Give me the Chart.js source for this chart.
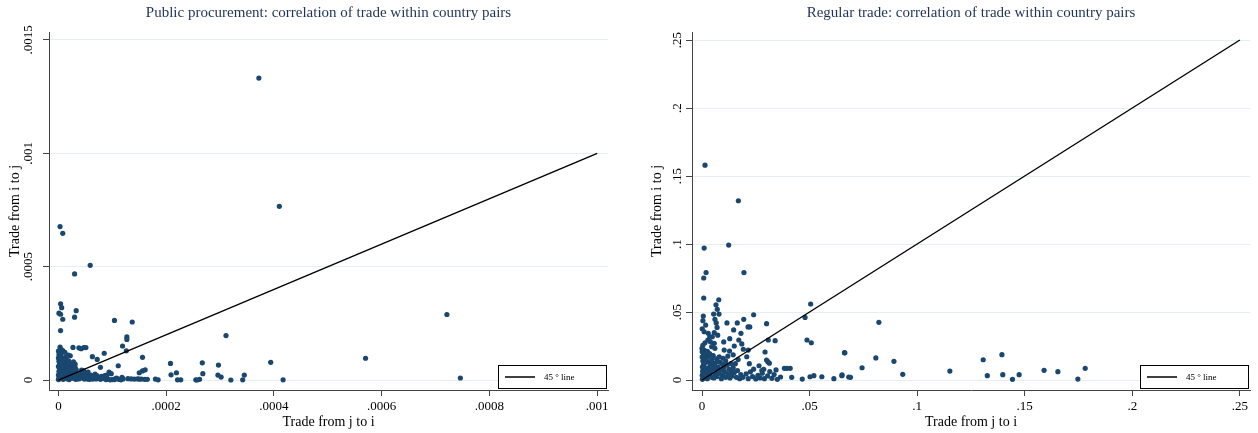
<!DOCTYPE html>
<html>
<head>
<meta charset="utf-8">
<title>Correlation of trade within country pairs</title>
<script src="https://cdn.jsdelivr.net/npm/chart.js@4.4.1/dist/chart.umd.min.js"></script>
<style>
  html, body { margin:0; padding:0; background:#fff; }
  .panels { display:flex; width:1258px; height:433px; }
  .panels canvas { display:block; }
</style>
</head>
<body>
<div class="panels">
  <canvas id="procChart" width="629" height="433"></canvas>
  <canvas id="tradeChart" width="629" height="433"></canvas>
</div>
<script>
/* ---------- Labels ---------- */
const procTitle = 'Public procurement: correlation of trade within country pairs';
const tradeTitle = 'Regular trade: correlation of trade within country pairs';
const xTitle = 'Trade from j to i';
const yTitle = 'Trade from i to j';
const lineLabel = '45 ° line';

/* ---------- Ticks ---------- */
const procXTicks = [0, 0.0002, 0.0004, 0.0006, 0.0008, 0.001];
const procYTicks = [0, 0.0005, 0.001, 0.0015];
const tradeXTicks = [0, 0.05, 0.1, 0.15, 0.2, 0.25];
const tradeYTicks = [0, 0.05, 0.1, 0.15, 0.2, 0.25];

/* ---------- 45 degree lines (x = y) ---------- */
const procDiagonal = [0, 0.001];
const tradeDiagonal = [0, 0.25];

/* ---------- Public procurement: [trade j->i, trade i->j] ---------- */
const procPairs = [
  [0.000372,0.001332],[0.000410,0.000766],[0.000003,0.000677],[0.000008,0.000647],
  [0.000059,0.000506],[0.000030,0.000468],[0.000004,0.000336],[0.000006,0.000319],
  [0.000033,0.000306],[0.000001,0.000295],[0.000004,0.000290],[0.000030,0.000277],
  [0.000008,0.000268],[0.000104,0.000263],[0.000137,0.000256],[0.000004,0.000218],
  [0.000311,0.000196],[0.000127,0.000190],[0.000127,0.000179],[0.000721,0.000289],
  [0.000570,0.000096],[0.000746,0.000009],[0.000394,0.000078],[0.000417,0.000001],
  [0.000119,0.000150],[0.000126,0.000129],
  [0.000027,0.000144],[0.000038,0.000142],[0.000042,0.000138],[0.000047,0.000143],[0.000051,0.000143],
  [0.000022,0.000107],[0.000063,0.000103],[0.000085,0.000118],[0.000072,0.000091],[0.000156,0.000100],
  [0.000111,0.000063],[0.000078,0.000056],[0.000028,0.000080],[0.000031,0.000070],[0.000043,0.000044],
  [0.000047,0.000040],[0.000094,0.000035],[0.000098,0.000028],[0.000090,0.000022],
  [0.000150,0.000032],[0.000156,0.000040],[0.000161,0.000045],
  [0.000208,0.000073],[0.000209,0.000023],[0.000219,0.000032],
  [0.000267,0.000076],[0.000297,0.000066],[0.000268,0.000028],[0.000296,0.000022],[0.000302,0.000013],[0.000345,0.000022],
  [0.000129,0.000006],[0.000135,0.000005],[0.000141,0.000004],[0.000147,0.000005],[0.000150,0.000004],
  [0.000154,0.000004],[0.000160,0.000003],[0.000165,0.000003],[0.000180,0.000004],[0.000185,0.000001],
  [0.000118,0.000012],[0.000105,0.000005],[0.000100,0.000002],
  [0.000221,0.000001],[0.000227,0.000001],[0.000255,0.000001],[0.000257,0.000000],[0.000262,0.000003],
  [0.000320,0.000000],[0.000342,0.000001],
  // dense block near the origin
  [0.000000,0.000002],[0.000001,0.000008],[0.000002,0.000015],[0.000000,0.000022],[0.000003,0.000030],
  [0.000001,0.000038],[0.000004,0.000045],[0.000002,0.000052],[0.000000,0.000060],[0.000005,0.000067],
  [0.000002,0.000075],[0.000001,0.000083],[0.000004,0.000090],[0.000000,0.000097],[0.000003,0.000104],
  [0.000001,0.000112],[0.000002,0.000120],[0.000000,0.000128],[0.000005,0.000135],[0.000003,0.000145],
  [0.000009,0.000003],[0.000011,0.000010],[0.000008,0.000018],[0.000013,0.000025],[0.000010,0.000033],
  [0.000014,0.000040],[0.000009,0.000048],[0.000012,0.000056],[0.000015,0.000063],[0.000010,0.000071],
  [0.000013,0.000078],[0.000016,0.000086],[0.000011,0.000094],[0.000014,0.000101],[0.000018,0.000110],
  [0.000020,0.000002],[0.000022,0.000009],[0.000024,0.000016],[0.000021,0.000023],[0.000026,0.000030],
  [0.000023,0.000038],[0.000028,0.000045],[0.000025,0.000053],[0.000029,0.000062],[0.000022,0.000070],
  [0.000032,0.000003],[0.000035,0.000010],[0.000038,0.000018],[0.000033,0.000026],[0.000040,0.000033],
  [0.000036,0.000005],[0.000044,0.000012],[0.000048,0.000004],[0.000052,0.000009],[0.000056,0.000016],
  [0.000042,0.000024],[0.000050,0.000028],[0.000058,0.000003],[0.000062,0.000008],[0.000066,0.000014],
  [0.000070,0.000005],[0.000074,0.000010],[0.000078,0.000003],[0.000084,0.000007],[0.000088,0.000002],
  [0.000092,0.000004],[0.000096,0.000001],[0.000104,0.000002],[0.000108,0.000008],[0.000112,0.000003],
  [0.000116,0.000001],[0.000120,0.000005],[0.000045,0.000040],[0.000055,0.000035],[0.000060,0.000022],
  [0.000068,0.000026],[0.000072,0.000018],[0.000080,0.000016],[0.000086,0.000020],
  [0.000006,0.000006],[0.000007,0.000026],[0.000006,0.000042],[0.000007,0.000058],[0.000006,0.000078],
  [0.000007,0.000095],[0.000005,0.000110],[0.000017,0.000005],[0.000018,0.000020],[0.000016,0.000035],
  [0.000019,0.000050],[0.000017,0.000068],[0.000019,0.000085],[0.000027,0.000008],[0.000030,0.000018],
  [0.000027,0.000036],[0.000033,0.000046],[0.000031,0.000055],[0.000036,0.000028],[0.000039,0.000006],
  [0.000046,0.000020],[0.000054,0.000004],[0.000041,0.000014],[0.000060,0.000012],[0.000064,0.000004],
  [0.000003,0.000125],[0.000008,0.000130],[0.000012,0.000122]
];

/* ---------- Regular trade: [trade j->i, trade i->j] ---------- */
const tradePairs = [
  [0.0014,0.1580],[0.0169,0.1318],[0.0124,0.0992],[0.0010,0.0970],[0.0019,0.0790],[0.0195,0.0790],[0.0008,0.0750],
  [0.0008,0.0603],[0.0078,0.0590],[0.0065,0.0553],[0.0071,0.0520],[0.0079,0.0485],[0.0054,0.0485],
  [0.0240,0.0480],[0.0116,0.0420],[0.0164,0.0420],[0.0194,0.0446],[0.0214,0.0390],[0.0222,0.0390],
  [0.0300,0.0414],[0.0147,0.0368],[0.0181,0.0343],
  [0.0101,0.0280],[0.0129,0.0304],[0.0171,0.0294],[0.0150,0.0250],[0.0185,0.0265],[0.0103,0.0220],[0.0128,0.0213],
  [0.0308,0.0294],[0.0340,0.0289],[0.0215,0.0220],[0.0192,0.0226],[0.0208,0.0171],[0.0293,0.0206],
  [0.0300,0.0147],[0.0306,0.0135],[0.0313,0.0124],
  [0.0479,0.0460],[0.0505,0.0559],[0.0488,0.0294],[0.0508,0.0274],[0.0662,0.0201],
  [0.0383,0.0086],[0.0395,0.0086],[0.0410,0.0086],[0.0287,0.0079],[0.0278,0.0069],[0.0344,0.0074],
  [0.0417,0.0020],[0.0466,0.0007],[0.0502,0.0024],[0.0520,0.0032],[0.0557,0.0024],[0.0613,0.0010],[0.0650,0.0032],
  [0.0822,0.0424],[0.0664,0.0200],[0.0808,0.0162],[0.0892,0.0137],[0.0744,0.0090],[0.0651,0.0037],
  [0.0682,0.0022],[0.0690,0.0020],[0.0933,0.0042],[0.1152,0.0066],[0.1307,0.0149],[0.1394,0.0186],
  [0.1326,0.0032],[0.1398,0.0039],[0.1443,0.0005],[0.1474,0.0039],[0.1590,0.0071],[0.1654,0.0061],
  [0.1747,0.0007],[0.1781,0.0086],
  [0.0006,0.0470],[0.0004,0.0436],[0.0017,0.0404],[0.0001,0.0377],[0.0010,0.0355],[0.0029,0.0343],
  [0.0036,0.0318],[0.0027,0.0294],[0.0014,0.0274],[0.0004,0.0255],[0.0000,0.0233],[0.0010,0.0220],
  [0.0001,0.0208],[0.0060,0.0446],[0.0066,0.0420],[0.0070,0.0387],[0.0057,0.0348],[0.0073,0.0330],
  [0.0048,0.0318],[0.0039,0.0282],[0.0057,0.0270],[0.0045,0.0245],[0.0060,0.0233],
  // dense block near the origin
  [0.0002,0.0005],[0.0005,0.0020],[0.0001,0.0035],[0.0008,0.0050],[0.0003,0.0065],[0.0010,0.0080],
  [0.0002,0.0095],[0.0006,0.0110],[0.0012,0.0125],[0.0004,0.0140],[0.0009,0.0155],[0.0001,0.0170],
  [0.0007,0.0185],[0.0015,0.0195],
  [0.0025,0.0010],[0.0030,0.0030],[0.0022,0.0050],[0.0035,0.0070],[0.0028,0.0090],[0.0040,0.0110],
  [0.0032,0.0130],[0.0045,0.0150],[0.0026,0.0170],[0.0038,0.0185],[0.0046,0.0020],[0.0042,0.0060],
  [0.0055,0.0015],[0.0060,0.0040],[0.0070,0.0025],[0.0065,0.0070],[0.0075,0.0095],[0.0058,0.0120],
  [0.0080,0.0050],[0.0085,0.0130],[0.0068,0.0155],[0.0090,0.0010],
  [0.0095,0.0035],[0.0105,0.0060],[0.0110,0.0020],[0.0120,0.0045],[0.0100,0.0090],[0.0115,0.0110],
  [0.0125,0.0080],[0.0130,0.0015],[0.0098,0.0160],
  [0.0140,0.0030],[0.0150,0.0055],[0.0160,0.0020],[0.0145,0.0090],[0.0165,0.0070],[0.0175,0.0010],
  [0.0155,0.0120],[0.0180,0.0040],
  [0.0190,0.0020],[0.0205,0.0045],[0.0215,0.0010],[0.0225,0.0060],[0.0235,0.0025],[0.0250,0.0008],
  [0.0260,0.0035],[0.0270,0.0015],[0.0280,0.0050],[0.0290,0.0010],[0.0305,0.0030],[0.0315,0.0062],
  [0.0325,0.0012],[0.0335,0.0040],[0.0350,0.0005],[0.0365,0.0022],[0.0240,0.0080],[0.0265,0.0105],
  [0.0220,0.0120],
  [0.0015,0.0015],[0.0005,0.0042],[0.0018,0.0070],[0.0008,0.0105],[0.0019,0.0135],[0.0020,0.0160],
  [0.0035,0.0045],[0.0050,0.0085],[0.0048,0.0125],[0.0062,0.0100],[0.0072,0.0135],[0.0088,0.0075],
  [0.0095,0.0115],[0.0110,0.0140],[0.0120,0.0175],[0.0135,0.0120],[0.0138,0.0060],[0.0052,0.0180],
  [0.0080,0.0170],[0.0025,0.0210],[0.0035,0.0195],[0.0168,0.0150],[0.0145,0.0185]
];

/* ---------- Shared style ---------- */
const serif = '"Liberation Serif", "Times New Roman", serif';
const navy = '#1a476f';

function tickText(v) {
  return v === 0 ? '0' : String(v).replace(/^0\./, '.');
}

/* ---------- Title above plot region ---------- */
const panelTitle = {
  id: 'panelTitle',
  afterDraw(chart, args, opts) {
    const { ctx, chartArea } = chart;
    ctx.save();
    ctx.font = '15px ' + serif;
    ctx.fillStyle = '#1e3356';
    ctx.textAlign = 'center';
    ctx.textBaseline = 'middle';
    ctx.fillText(opts.text, (chartArea.left + chartArea.right) / 2, 13);
    ctx.restore();
  }
};

/* ---------- Boxed key in the lower right corner ---------- */
const lineKey = {
  id: 'lineKey',
  afterDatasetsDraw(chart) {
    const ds = chart.data.datasets.find(d => d.type === 'line');
    const { ctx, chartArea } = chart;
    const w = 108, h = 23;
    const left = Math.round(chartArea.right - w - 2), top = Math.round(chartArea.bottom - h - 2);
    ctx.save();
    ctx.fillStyle = '#fff';
    ctx.fillRect(left, top, w, h);
    ctx.strokeStyle = '#000';
    ctx.lineWidth = 1;
    ctx.strokeRect(left + 0.5, top + 0.5, w, h);
    ctx.beginPath();
    ctx.moveTo(left + 7, top + h / 2 + 0.5);
    ctx.lineTo(left + 37, top + h / 2 + 0.5);
    ctx.strokeStyle = ds.borderColor;
    ctx.lineWidth = 1.5;
    ctx.stroke();
    ctx.fillStyle = '#000';
    ctx.font = '9px ' + serif;
    ctx.textBaseline = 'middle';
    ctx.fillText(ds.label, left + 46, top + h / 2 + 1);
    ctx.restore();
  }
};

/* ---------- Build one panel ---------- */
function buildPanel(canvasId, cfg) {
  return new Chart(document.getElementById(canvasId), {
    type: 'scatter',
    data: {
      datasets: [
        {
          label: 'Country pairs',
          data: cfg.pairs.map(([x, y]) => ({ x, y })),
          backgroundColor: navy, borderWidth: 0, pointRadius: 2.6, order: 1
        },
        {
          type: 'line',
          label: lineLabel,
          data: cfg.diagonal.map(v => ({ x: v, y: v })),
          borderColor: '#000', borderWidth: 1.4, pointRadius: 0, fill: false, order: 0
        }
      ]
    },
    options: {
      responsive: false,
      animation: false,
      layout: { padding: cfg.padding },
      plugins: {
        legend: { display: false },
        tooltip: { enabled: false },
        panelTitle: { text: cfg.title }
      },
      scales: {
        x: {
          type: 'linear', min: cfg.xRange[0], max: cfg.xRange[1],
          afterBuildTicks: s => { s.ticks = cfg.xTicks.map(v => ({ value: v })); },
          afterFit: s => { s.height = 43; },
          ticks: { callback: tickText, color: '#000', font: { family: serif, size: 13 }, padding: 3, maxRotation: 0, autoSkip: false },
          grid: { drawOnChartArea: false, tickLength: 6, tickColor: '#444' },
          border: { color: '#444' },
          title: { display: true, text: xTitle, color: '#000', font: { family: serif, size: 14 }, padding: { top: 0, bottom: 2 } }
        },
        y: {
          type: 'linear', min: cfg.yRange[0], max: cfg.yRange[1],
          afterBuildTicks: s => { s.ticks = cfg.yTicks.map(v => ({ value: v })); },
          afterFit: s => { s.width = cfg.yWidth; },
          ticks: { callback: tickText, color: '#000', font: { family: serif, size: 13 }, padding: 0, minRotation: 90, maxRotation: 90, crossAlign: 'center', autoSkip: false },
          grid: { color: '#e6eef1', tickColor: '#444', tickLength: 6 },
          border: { color: '#444' },
          title: { display: true, text: yTitle, color: '#000', font: { family: serif, size: 14 }, padding: { top: 4, bottom: 0 } }
        }
      }
    },
    plugins: [panelTitle, lineKey]
  });
}

buildPanel('procChart', {
  title: procTitle,
  pairs: procPairs,
  diagonal: procDiagonal,
  xTicks: procXTicks,
  yTicks: procYTicks,
  xRange: [-0.0000175, 0.00102],
  yRange: [-0.000044, 0.001535],
  padding: { left: 3, right: 21, top: 32, bottom: 0 },
  yWidth: 46
});

buildPanel('tradeChart', {
  title: tradeTitle,
  pairs: tradePairs,
  diagonal: tradeDiagonal,
  xTicks: tradeXTicks,
  yTicks: tradeYTicks,
  xRange: [-0.00465, 0.2547],
  yRange: [-0.00735, 0.2559],
  padding: { left: 16, right: 8, top: 32, bottom: 0 },
  yWidth: 47
});
</script>
</body>
</html>
